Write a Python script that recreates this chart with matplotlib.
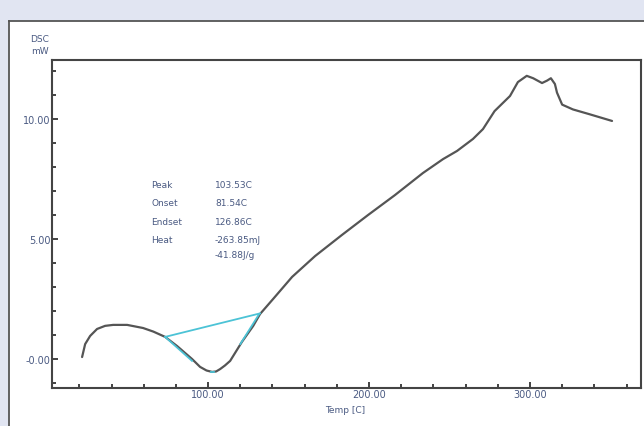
import matplotlib
matplotlib.use("Agg")
import matplotlib.pyplot as plt
from matplotlib.patches import Rectangle
from matplotlib.lines import Line2D
from matplotlib.ticker import MultipleLocator, FixedLocator

# DSC curve (Temp [C], mW)
temp = [21.7, 23.6, 26.7, 31, 36, 41, 49.7, 59.6, 66, 73.3, 80.7, 90, 95, 99, 102.5,
        105, 107.5, 110.5, 113.7, 121, 128, 132.3, 140.4, 152.2, 166.5, 183.2,
        199.4, 216.1, 233.5, 246, 254.7, 264.6, 270.8, 278, 287.6, 292.5, 298,
        302, 307.5, 310.6, 313, 315.5, 316.8, 320, 326.7, 337, 351]
dsc = [0.08, 0.62, 0.96, 1.25, 1.38, 1.42, 1.42, 1.29, 1.14, 0.92, 0.54, 0.0, -0.33,
       -0.48, -0.54, -0.52, -0.42, -0.27, -0.08, 0.71, 1.375, 1.875, 2.5, 3.42,
       4.29, 5.17, 6.0, 6.83, 7.75, 8.33, 8.67, 9.17, 9.58, 10.33, 10.96, 11.54,
       11.8, 11.7, 11.5, 11.6, 11.7, 11.46, 11.1, 10.6, 10.4, 10.2, 9.92]

# analysis lines (cyan)
base_t = [73.3, 132.3]
base_y = [0.92, 1.9]
onset_t = [73.3, 90]
onset_y = [0.92, -0.08]
endset_t = [120, 131.7]
endset_y = [0.62, 1.87]
peak_t = [101.5, 103.5]
peak_y = [-0.55, -0.55]

labels = ["Peak", "Onset", "Endset", "Heat", ""]
values = ["103.53C", "81.54C", "126.86C", "-263.85mJ", "-41.88J/g"]

yticks = [0, 5, 10]
yticklabels = ["-0.00", "5.00", "10.00"]
xticks = [100, 200, 300]
xticklabels = ["100.00", "200.00", "300.00"]

W, H = 644, 427
fig = plt.figure(figsize=(W / 100, H / 100), dpi=100)
fig.patch.set_facecolor("#e1e5f2")
fig.patches.append(Rectangle((9 / W, 0), 1 - 9 / W, 1 - 22 / H, transform=fig.transFigure,
                             facecolor="white", edgecolor="none", zorder=-10))
fig.lines.append(Line2D([9 / W, 9 / W], [0, 1 - 22 / H], transform=fig.transFigure,
                        color="#555555", lw=1.3, zorder=-5))
fig.lines.append(Line2D([9 / W, 1], [1 - 22 / H, 1 - 22 / H], transform=fig.transFigure,
                        color="#555555", lw=1.3, zorder=-5))

ax = fig.add_axes([52 / W, 1 - 389 / H, (641 - 52) / W, (389 - 61) / H])
ax.set_zorder(5)
ax.set_facecolor("white")
ax.plot(temp, dsc, color="#555555", lw=1.6, solid_capstyle="round", solid_joinstyle="round")
cy = "#4cc3d6"
for t, y in [(base_t, base_y), (onset_t, onset_y), (endset_t, endset_y), (peak_t, peak_y)]:
    ax.plot(t, y, color=cy, lw=1.3)

ax.set_xlim(3, 369)
ax.set_ylim(-1.21, 12.46)
ax.xaxis.set_major_locator(FixedLocator(xticks))
ax.set_xticklabels(xticklabels)
ax.xaxis.set_minor_locator(MultipleLocator(20))
ax.yaxis.set_major_locator(FixedLocator(yticks))
ax.set_yticklabels(yticklabels)
ax.yaxis.set_minor_locator(MultipleLocator(1))
lc = "#4a5a82"
ax.tick_params(which="major", direction="in", length=4, width=1.2, color="#222222",
               labelsize=7, labelcolor=lc, pad=1)
ax.tick_params(which="minor", direction="in", length=3, width=1.2, color="#222222")
for s in ax.spines.values():
    s.set_color("#444444")
    s.set_linewidth(1.5)

def ftxt(x, y, s, **kw):
    fig.text(x / W, 1 - y / H, s, fontsize=6.5, color=lc, va="center", zorder=10, **kw)

ftxt(40, 40, "DSC", ha="center")
ftxt(40, 52, "mW", ha="center")
ftxt(345, 411, "Temp [C]", ha="center")

rows_y = [186, 204, 223, 241, 256]
for lab, val, yy in zip(labels, values, rows_y):
    if lab:
        ftxt(151, yy, lab, ha="left")
    ftxt(215, yy, val, ha="left")

fig.savefig("out.png", dpi=100, facecolor=fig.get_facecolor())
